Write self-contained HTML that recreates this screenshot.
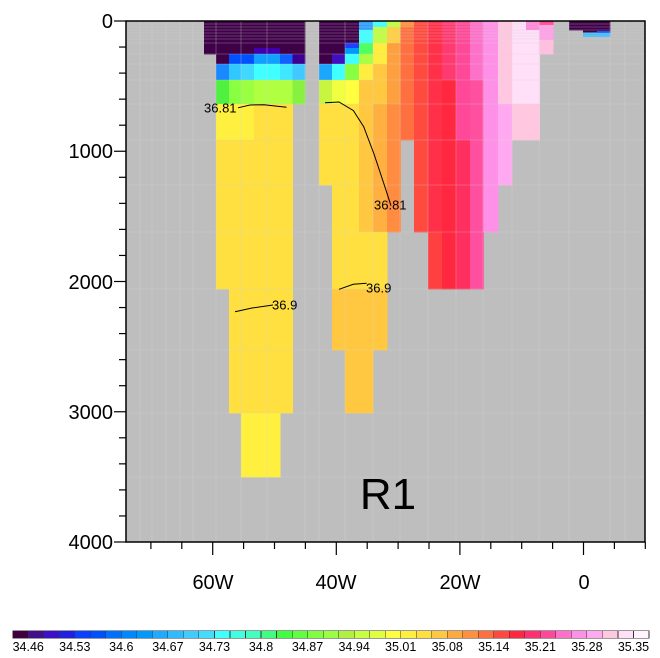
<!DOCTYPE html>
<html><head><meta charset="utf-8"><style>
html,body{margin:0;padding:0;background:#fff;}
svg{display:block;font-family:"Liberation Sans",sans-serif;}
</style></head><body>
<svg width="660" height="658" viewBox="0 0 660 658" xmlns="http://www.w3.org/2000/svg">
<rect x="126" y="21" width="519" height="521" fill="#bebebe"/>
<g id="cells" shape-rendering="crispEdges"></g>
<g stroke="#d4d4d4" stroke-width="0.6" opacity="0.55">
<line x1="140" y1="21" x2="140" y2="542"/><line x1="152" y1="21" x2="152" y2="542"/><line x1="166" y1="21" x2="166" y2="542"/><line x1="180" y1="21" x2="180" y2="542"/>
<line x1="193" y1="21" x2="193" y2="542"/><line x1="216" y1="21" x2="216" y2="542"/><line x1="241" y1="21" x2="241" y2="542"/><line x1="267" y1="21" x2="267" y2="542"/>
<line x1="305" y1="21" x2="305" y2="542"/><line x1="319" y1="21" x2="319" y2="542"/><line x1="345" y1="21" x2="345" y2="542"/><line x1="373" y1="21" x2="373" y2="542"/>
<line x1="400" y1="21" x2="400" y2="542"/><line x1="428" y1="21" x2="428" y2="542"/><line x1="456" y1="21" x2="456" y2="542"/><line x1="483" y1="21" x2="483" y2="542"/>
<line x1="512" y1="21" x2="512" y2="542"/><line x1="539" y1="21" x2="539" y2="542"/><line x1="569" y1="21" x2="569" y2="542"/><line x1="610" y1="21" x2="610" y2="542"/><line x1="625" y1="21" x2="625" y2="542"/>
<line x1="126" y1="54" x2="645" y2="54"/><line x1="126" y1="64" x2="645" y2="64"/><line x1="126" y1="80" x2="645" y2="80"/><line x1="126" y1="104" x2="645" y2="104"/>
<line x1="126" y1="140" x2="645" y2="140"/><line x1="126" y1="185" x2="645" y2="185"/><line x1="126" y1="232" x2="645" y2="232"/><line x1="126" y1="289" x2="645" y2="289"/>
<line x1="126" y1="350" x2="645" y2="350"/><line x1="126" y1="413" x2="645" y2="413"/><line x1="126" y1="477" x2="645" y2="477"/>
<line x1="126" y1="24" x2="645" y2="24"/><line x1="126" y1="27" x2="645" y2="27"/><line x1="126" y1="30" x2="645" y2="30"/><line x1="126" y1="33" x2="645" y2="33"/><line x1="126" y1="36" x2="645" y2="36"/><line x1="126" y1="39" x2="645" y2="39"/><line x1="126" y1="43" x2="645" y2="43"/>
</g>
<g fill="none" stroke="#000" stroke-width="1">
<polyline points="238,107.8 250,105 264,104.7 286.5,107.2"/>
<polyline points="325,102.7 339,102 353.4,110.6 363.7,126.7 374,154 384.3,185 391,205.7"/>
<polyline points="235,311.7 252,308 273,305"/>
<polyline points="339,289.3 353.3,284.3 366.7,283.3"/>
</g>
<g font-size="13" fill="#000">
<text x="204" y="112.5">36.81</text>
<text x="374" y="209.5">36.81</text>
<text x="272" y="309.5">36.9</text>
<text x="366" y="292.5">36.9</text>
</g>
<text x="388" y="509" font-size="44" text-anchor="middle">R1</text>
<rect x="126" y="21" width="519" height="521" fill="none" stroke="#000" stroke-width="1.5"/>
<g id="ticks" stroke="#000" stroke-width="1.2"></g>
<g font-size="20" text-anchor="end">
<text x="113" y="28">0</text><text x="113" y="158">1000</text><text x="113" y="289">2000</text><text x="113" y="419">3000</text><text x="113" y="549">4000</text>
</g>
<g font-size="20" text-anchor="middle">
<text x="213" y="589">60W</text><text x="336" y="589">40W</text><text x="460" y="589">20W</text><text x="584" y="589">0</text>
</g>
<g id="cbar" shape-rendering="crispEdges"></g>
<g id="cbl" font-size="12.5" text-anchor="middle"></g>
<script>
const NS="http://www.w3.org/2000/svg";
function R(g,x,y,w,h,f,s){const r=document.createElementNS(NS,"rect");r.setAttribute("x",x);r.setAttribute("y",y);r.setAttribute("width",w);r.setAttribute("height",h);r.setAttribute("fill",f);if(s){r.setAttribute("stroke",s);r.setAttribute("stroke-width","0.6");}g.appendChild(r);}
const P="#3e0046";
const cols=[
[204,216,[[21,54,P]]],
[216,229,[[21,64,P],[64,80,"#1a88ff"],[80,104,"#50f040"],[104,140,"#fff040"],[140,289,"#ffe040"]]],
[229,241,[[21,54,P],[54,64,"#0050ff"],[64,80,"#30c8ff"],[80,104,"#88ff40"],[104,140,"#fff040"],[140,413,"#ffe040"]]],
[241,254,[[21,54,P],[54,64,"#0050ff"],[64,80,"#40d8ff"],[80,104,"#99ff40"],[104,140,"#fff040"],[140,413,"#ffe040"],[413,477,"#fff040"]]],
[254,267,[[21,48,P],[48,54,"#4000b0"],[54,64,"#10a0ff"],[64,80,"#40ffff"],[80,104,"#b0ff40"],[104,413,"#ffe040"],[413,477,"#fff040"]]],
[267,280,[[21,48,P],[48,54,"#4000b0"],[54,64,"#10a0ff"],[64,80,"#40ffff"],[80,104,"#b0ff40"],[104,413,"#ffe040"],[413,477,"#fff040"]]],
[280,292.5,[[21,54,P],[54,64,"#1060ff"],[64,80,"#40e8ff"],[80,104,"#b0ff40"],[104,413,"#ffe040"]]],
[292.5,305,[[21,54,P],[54,64,"#3c0090"],[64,80,"#40c8ff"],[80,104,"#88f040"]]],
[319,332,[[21,64,P],[64,80,"#1aa8ff"],[80,104,"#c8f540"],[104,185,"#ffe040"]]],
[332,345,[[21,54,P],[54,64,"#4010c0"],[64,80,"#40ffff"],[80,104,"#f0ff40"],[104,289,"#ffe040"],[289,350,"#ffc840"]]],
[345,359,[[21,43,P],[43,48,"#2040ff"],[48,54,"#0099ff"],[54,64,"#40ffff"],[64,80,"#88ff40"],[80,104,"#ffff40"],[104,289,"#ffe040"],[289,413,"#ffc840"]]],
[359,373,[[21,30,"#30a0ff"],[30,43,"#40ffff"],[43,54,"#50ff60"],[54,64,"#aaff40"],[64,80,"#ffee40"],[80,232,"#ffc840"],[232,289,"#ffe040"],[289,413,"#ffc840"]]],
[373,387,[[21,27,"#40ffff"],[27,43,"#c0ff40"],[43,64,"#ffee40"],[64,104,"#ffc840"],[104,232,"#ffb040"],[232,289,"#ffe040"],[289,350,"#ffc840"]]],
[387,400.5,[[21,27,"#c0ff40"],[27,43,"#ffd040"],[43,104,"#ffa040"],[104,232,"#ff8c40"]]],
[400.5,414,[[21,27,"#ff9040"],[27,140,"#ff7040"]]],
[414,428,[[21,232,"#ff4a40"]]],
[428,442,[[21,232,"#ff3048"],[232,289,"#ff4040"]]],
[442,456,[[21,80,"#ff3a70"],[80,289,"#ff2840"]]],
[456,470,[[21,140,"#ff4898"],[140,289,"#ff3060"]]],
[470,483.5,[[21,80,"#ff70c8"],[80,289,"#ff50a0"]]],
[483.5,498,[[21,232,"#ff90e8"]]],
[498,512,[[21,104,"#ffc8e0"],[104,185,"#ffaaf0"]]],
[512,526,[[21,104,"#ffe0f8"],[104,140,"#ffc8e0"]]],
[526,539.5,[[21,30,"#ff88d8"],[30,104,"#ffe0f8"],[104,140,"#ffc8e0"]]],
[539.5,553,[[21,25,"#ff4890"],[25,40,"#ffa0e8"],[40,54,"#ffc0e0"]]],
[569,583,[[21,30,P]]],
[583,597,[[21,32.7,P],[32.7,36.7,"#40c0ff"]]],
[597,610,[[21,31,P],[31,33,"#2050ff"],[33,36.7,"#40c0ff"]]]
];
const g=document.getElementById("cells");
for(const [x0,x1,cs] of cols)for(const [y0,y1,c] of cs)R(g,x0,y0,x1-x0+0.3,y1-y0+0.3,c);
const t=document.getElementById("ticks");
function L(x1,y1,x2,y2){const l=document.createElementNS(NS,"line");l.setAttribute("x1",x1);l.setAttribute("y1",y1);l.setAttribute("x2",x2);l.setAttribute("y2",y2);t.appendChild(l);}
for(let d=0;d<=4000;d+=200){const y=21+d*0.13025;const maj=d%1000==0;L(126,y,maj?114:119,y);}
for(let lon=-70;lon<=10;lon+=5){const x=583.5+lon*6.18;const maj=lon%20==0;L(x,542,x,maj?555:549);}
const cc=["#400040","#40108a","#3a10c8","#2020e0","#0a40ff","#0050ff","#0070ff","#0088ff","#0099ff","#20aaff","#30bbff","#40ccff","#40ddff","#40ffff","#40ffe0","#40ffc0","#40ff80","#40ff40","#60ff40","#80ff40","#99ff40","#b0f040","#c8ff40","#e0ff40","#ffff40","#fff040","#ffe040","#ffc840","#ffaa40","#ff9040","#ff7040","#ff4840","#ff2840","#ff3070","#ff4898","#ff70c8","#ff90e8","#ffaaf0","#ffc8e0","#ffe0f8","#fff4ff"];
const cb=document.getElementById("cbar");const w=(649-12.7)/41;
cc.forEach((c,i)=>R(cb,12.7+i*w,630.6,w,7.7,c,"#333"));
const labs=["34.46","34.53","34.6","34.67","34.73","34.8","34.87","34.94","35.01","35.08","35.14","35.21","35.28","35.35"];
const cl=document.getElementById("cbl");
labs.forEach((s,k)=>{const tx=document.createElementNS(NS,"text");tx.setAttribute("x",12.7+(1+3*k)*w);tx.setAttribute("y",651);tx.textContent=s;cl.appendChild(tx);});
</script>
</svg>
</body></html>
